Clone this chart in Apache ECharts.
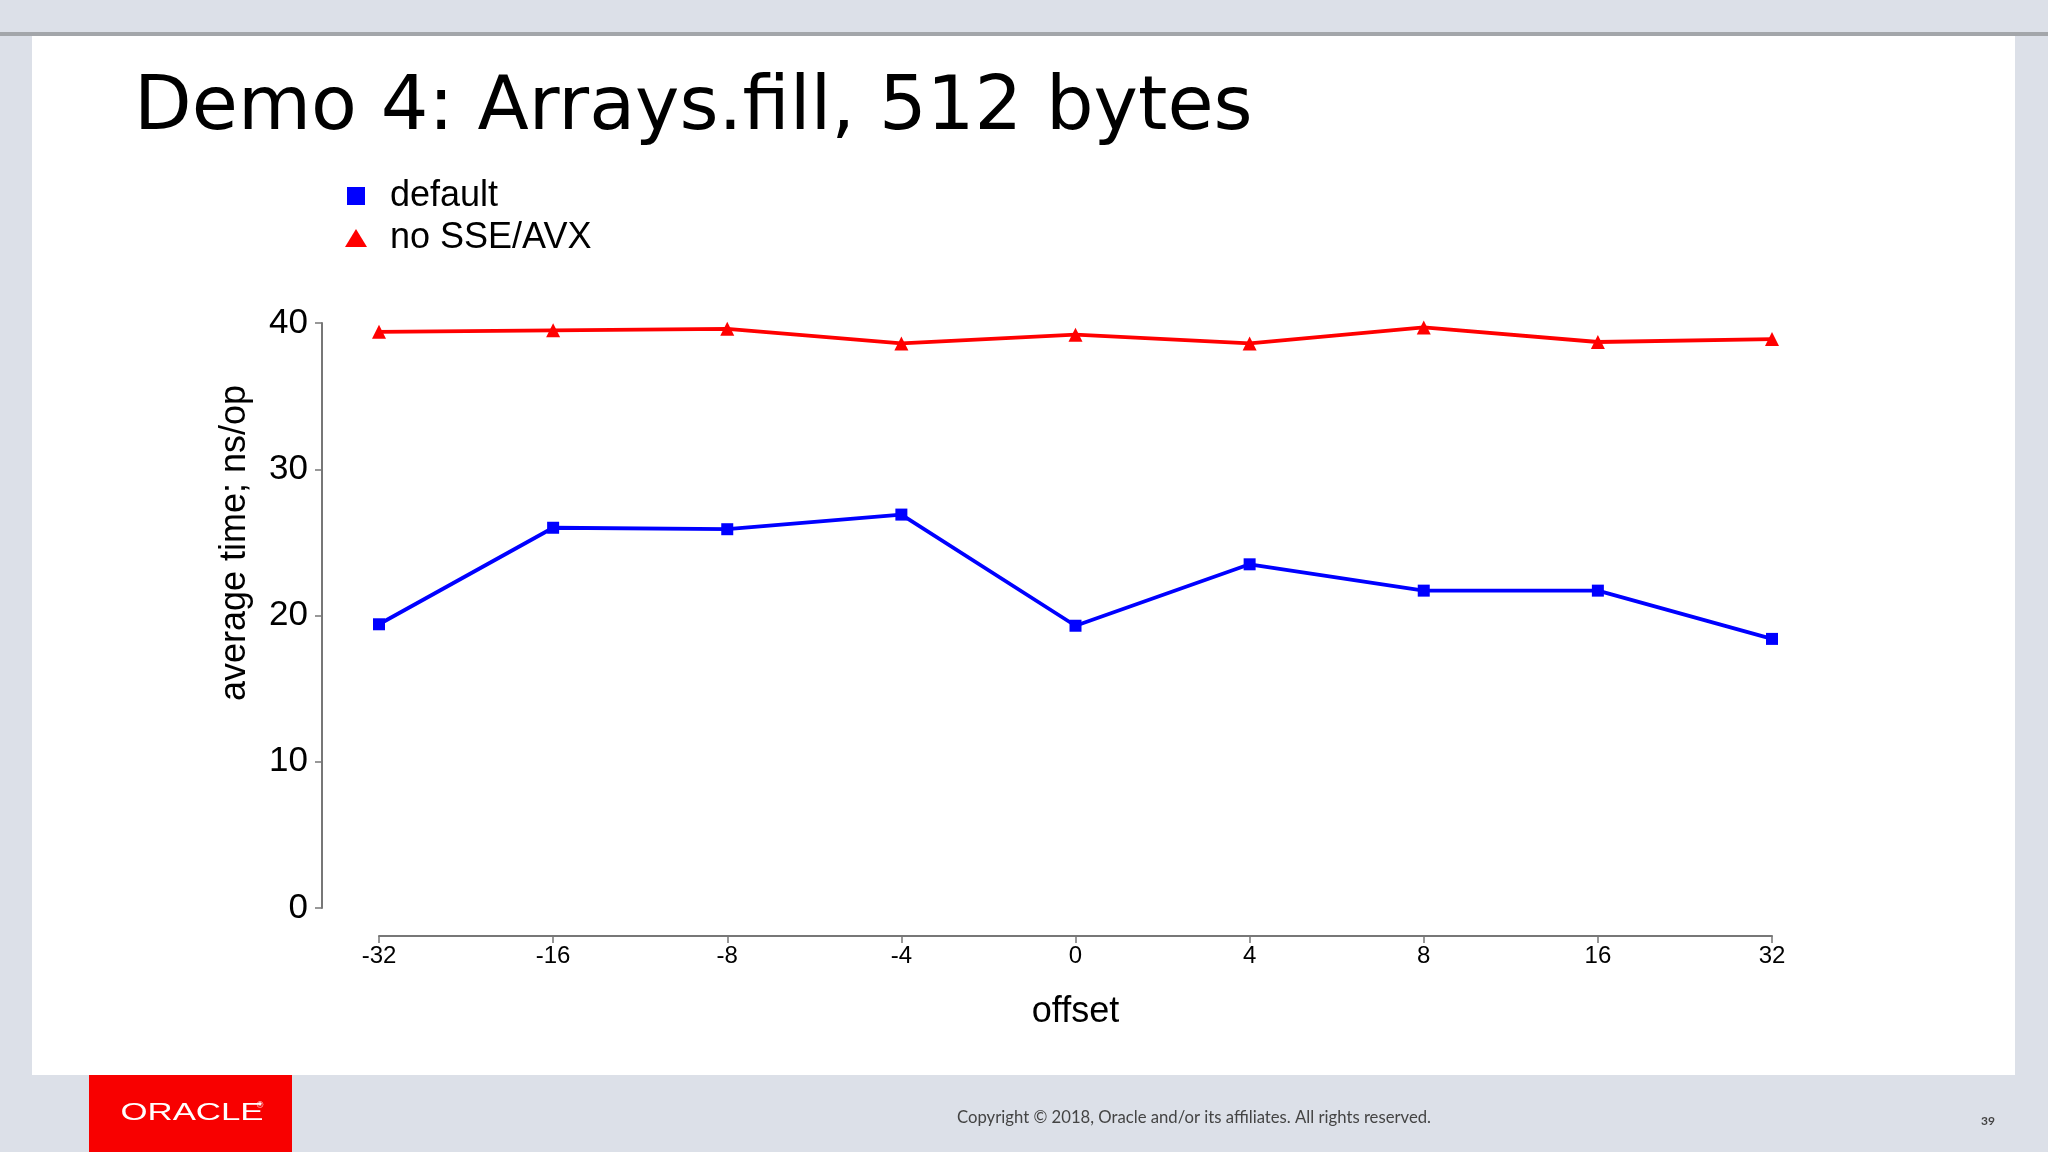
<!DOCTYPE html>
<html>
<head>
<meta charset="utf-8">
<script src="https://cdn.jsdelivr.net/npm/echarts@6/dist/echarts.min.js"></script>
<style>
html,body{margin:0;padding:0;background:#dce0e8;}
#chart{width:2048px;height:1152px;}
</style>
</head>
<body>
<div id="chart"></div>
<script>
const categories = ['-32', '-16', '-8', '-4', '0', '4', '8', '16', '32'];
const defaultValues = [19.4, 26.0, 25.9, 26.9, 19.3, 23.5, 21.7, 21.7, 18.4];
const noSseAvxValues = [39.4, 39.5, 39.6, 38.6, 39.2, 38.6, 39.7, 38.7, 38.9];
const yTicks = [0, 10, 20, 30, 40];

const chart = echarts.init(document.getElementById('chart'));
const sans = '"Liberation Sans", Arial, Helvetica, sans-serif';

chart.setOption({
  backgroundColor: '#dce0e8',
  animation: false,
  title: {
    text: 'Demo 4: Arrays.fill, 512 bytes',
    left: 129,
    top: 67,
    textStyle: { fontFamily: '"DejaVu Sans", sans-serif', fontSize: 75, fontWeight: 'normal', color: '#000' }
  },
  graphic: [
    { type: 'rect', z: -10, shape: { x: 0, y: 32, width: 2048, height: 4 }, style: { fill: '#a3a6aa' } },
    { type: 'rect', z: -10, shape: { x: 32, y: 36, width: 1983, height: 1039 }, style: { fill: '#ffffff' } },
    { type: 'rect', z: -10, shape: { x: 89, y: 1075, width: 203, height: 77 }, style: { fill: '#f80000' } },
    { type: 'text', x: 192, y: 1113, scaleX: 1.45, style: { text: 'ORACLE', fill: '#fff', fontFamily: sans, fontSize: 24, align: 'center', verticalAlign: 'middle' } },
    { type: 'text', x: 260, y: 1106, style: { text: '®', fill: '#fff', fontFamily: sans, fontSize: 9, align: 'center', verticalAlign: 'middle' } },
    { type: 'text', x: 1194, y: 1118, style: { text: 'Copyright © 2018, Oracle and/or its affiliates. All rights reserved.', fill: '#444', fontFamily: 'Lato, sans-serif', fontSize: 16.7, align: 'center', verticalAlign: 'middle' } },
    { type: 'text', x: 1988, y: 1121, style: { text: '39', fill: '#444', fontFamily: 'Lato, sans-serif', fontSize: 12, fontWeight: 'bold', align: 'center', verticalAlign: 'middle' } },
    { type: 'text', x: 235, y: 543, rotation: Math.PI / 2, style: { text: 'average time; ns/op', fill: '#000', fontFamily: sans, fontSize: 36, align: 'center', verticalAlign: 'middle' } }
  ],
  legend: {
    orient: 'vertical',
    left: 340,
    top: 171,
    itemWidth: 22,
    itemHeight: 18,
    itemGap: 2,
    symbolKeepAspect: true,
    textStyle: { fontFamily: sans, fontSize: 36, color: '#000', lineHeight: 40, padding: [0, 0, 0, 18] },
    data: [
      { name: 'default', icon: 'path://M0,0L17,0L17,17L0,17Z' },
      { name: 'no SSE/AVX', icon: 'triangle' }
    ]
  },
  grid: { left: 379, right: 276, top: 323, bottom: 244, containLabel: false },
  xAxis: {
    type: 'category',
    data: categories,
    boundaryGap: false,
    offset: 28,
    name: 'offset',
    nameLocation: 'middle',
    nameGap: 58,
    nameTextStyle: { fontFamily: sans, fontSize: 36, color: '#000' },
    axisLine: { onZero: false, lineStyle: { color: '#777', width: 2 } },
    axisTick: { length: 7, lineStyle: { color: '#777', width: 1.5 } },
    axisLabel: { fontFamily: sans, fontSize: 24, color: '#000', margin: 8 },
    splitLine: { show: false }
  },
  yAxis: {
    type: 'value',
    min: yTicks[0],
    max: yTicks[yTicks.length - 1],
    interval: 10,
    offset: 57,
    axisLine: { show: true, onZero: false, lineStyle: { color: '#777', width: 2 } },
    axisTick: { show: true, length: 7, lineStyle: { color: '#777', width: 1.5 } },
    axisLabel: { fontFamily: sans, fontSize: 35, color: '#000', margin: 14 },
    splitLine: { show: false }
  },
  series: [
    {
      name: 'default',
      type: 'line',
      data: defaultValues,
      symbol: 'rect',
      symbolSize: 12,
      color: '#0000ff',
      lineStyle: { color: '#0000ff', width: 3.8 },
      itemStyle: { color: '#0000ff' }
    },
    {
      name: 'no SSE/AVX',
      type: 'line',
      data: noSseAvxValues,
      symbol: 'triangle',
      symbolSize: 14,
      color: '#ff0000',
      lineStyle: { color: '#ff0000', width: 3.8 },
      itemStyle: { color: '#ff0000' }
    }
  ]
});
</script>
</body>
</html>
